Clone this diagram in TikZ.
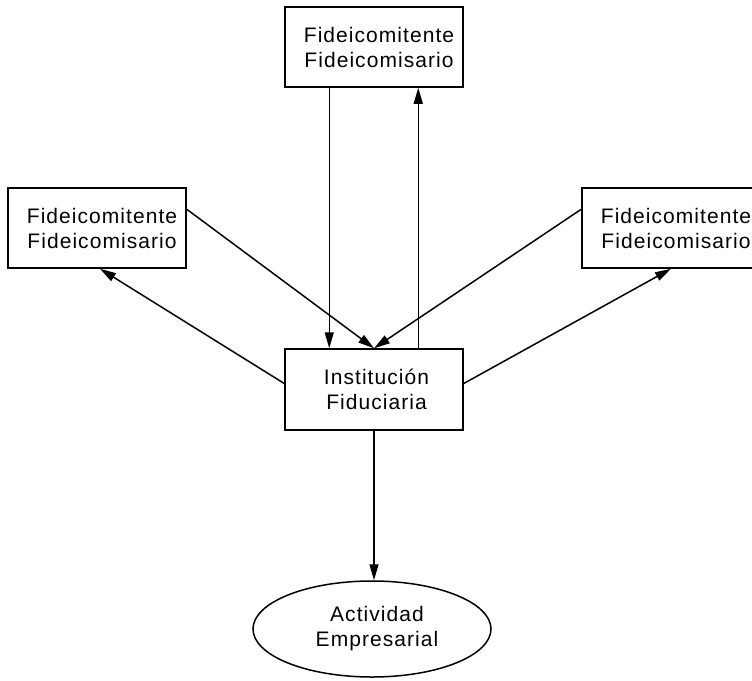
\documentclass[tikz,border=0pt]{standalone}
\usepackage{fontspec}
\setmainfont[LetterSpace=5]{Liberation Sans}
\usetikzlibrary{arrows.meta,shapes.geometric,calc}
\newcommand{\pushr}{\hspace*{10pt}}
\begin{document}
\begin{tikzpicture}[x=1pt,y=-1pt,
  box/.style={draw,line width=1.5pt,rectangle,minimum width=178pt,minimum height=80pt,inner sep=0pt,align=center,font=\fontsize{21}{25}\selectfont},
  oval/.style={draw,line width=1.5pt,ellipse,minimum width=238pt,minimum height=96pt,inner sep=0pt,align=center,font=\fontsize{21}{25}\selectfont},
  conn/.style={line width=1.5pt,-{Triangle[length=16pt,width=9pt]}}]
\useasboundingbox (0,0) rectangle (752,680);
\clip (0,0) rectangle (752,680);
\node[box] (top) at (374,47) {\pushr Fideicomitente\\\pushr Fideicomisario};
\node[box] (left) at (97,228) {\pushr Fideicomitente\\\pushr Fideicomisario};
\node[box] (right) at (671,228) {\pushr Fideicomitente\\\pushr Fideicomisario};
\node[box,minimum height=81pt] (ctr) at (374,389.5) {\hspace*{5pt}Institución\\\hspace*{5pt}Fiduciaria};
\node[oval] (act) at (372,629) {\pushr Actividad\\\pushr Empresarial};
\draw[conn] ($(top.south west)+(45,0)$) -- ($(ctr.north west)+(45,0)$);
\draw[conn] ($(ctr.north west)+(134,0)$) -- ($(top.south west)+(134,0)$);
\draw[conn] ($(left.north east)+(0,22)$) -- (ctr.north);
\draw[conn] ($(right.north west)+(0,22)$) -- (ctr.north);
\draw[conn] ($(ctr.west)+(0,-6)$) -- ($(left.south)+(3,0)$);
\draw[conn] ($(ctr.east)+(0,-6)$) -- (right.south);
\draw[conn] (ctr.south) -- (act.north -| ctr.south);
\end{tikzpicture}
\end{document}
